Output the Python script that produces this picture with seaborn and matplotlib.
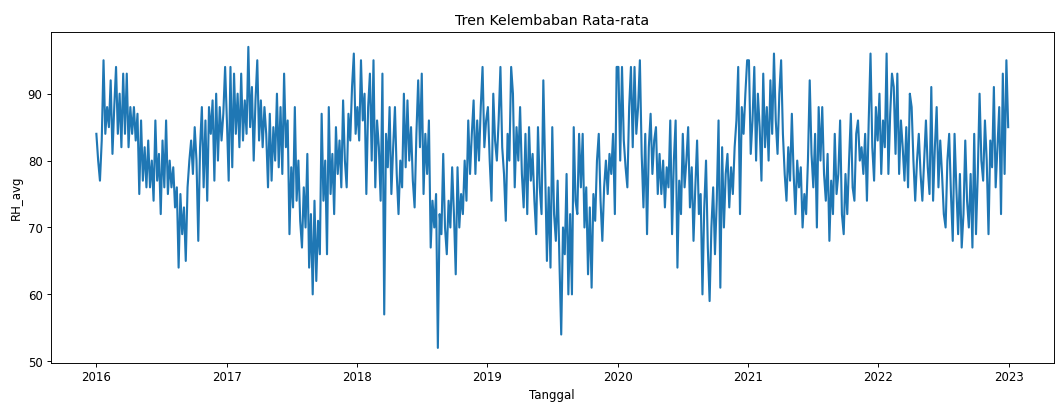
import numpy as np
import pandas as pd
import matplotlib
matplotlib.use("Agg")
import matplotlib.pyplot as plt
import seaborn as sns

# Values (approx. every 5 days, alternating local highs/lows)
rh_2016 = [84, 80, 77, 83, 95, 84, 88, 85, 92, 81, 88, 94, 84, 90, 82, 93, 84, 93, 82, 88,
           84, 88, 83, 87, 75, 86, 77, 82, 76, 83, 76, 80, 74, 86, 77, 81, 72, 83, 76, 86,
           75, 80, 76, 79, 73, 76, 64, 75, 69, 73, 65, 76, 80, 83, 78, 85, 80, 68, 82, 88,
           76, 86, 74, 88, 84, 89, 77, 90, 80, 88, 83, 87, 94]
rh_2017 = [86, 77, 94, 79, 93, 84, 90, 82, 93, 83, 89, 84, 97, 85, 91, 80, 89, 95, 83, 89,
           82, 88, 84, 76, 87, 77, 85, 80, 90, 79, 88, 78, 93, 82, 86, 69, 79, 73, 88, 74,
           80, 71, 67, 76, 70, 81, 64, 72, 60, 74, 62, 71, 66, 87, 74, 80, 66, 88, 75, 81,
           72, 85, 78, 83, 76, 89, 80, 76, 87, 83, 91, 96, 84]
rh_2018 = [88, 83, 95, 86, 90, 75, 88, 93, 80, 95, 76, 86, 82, 74, 93, 57, 84, 79, 88, 75,
           82, 88, 78, 72, 80, 76, 90, 79, 89, 80, 85, 77, 73, 84, 92, 82, 93, 75, 84, 78,
           86, 67, 74, 70, 75, 52, 72, 69, 81, 70, 66, 74, 70, 79, 72, 63, 79, 70, 75, 72,
           80, 74, 86, 78, 84, 89, 78, 86, 80, 88, 94, 82, 86]
rh_2019 = [88, 80, 74, 90, 83, 80, 86, 94, 82, 78, 71, 84, 80, 94, 90, 76, 85, 80, 88, 78,
           73, 84, 72, 85, 77, 81, 74, 69, 85, 76, 72, 92, 79, 65, 76, 64, 85, 72, 68, 77,
           65, 54, 70, 66, 78, 60, 72, 60, 85, 74, 72, 84, 76, 84, 70, 76, 63, 73, 61, 75,
           71, 80, 84, 74, 68, 76, 80, 75, 81, 78, 84, 72, 94]
rh_2020 = [94, 80, 94, 83, 79, 76, 88, 94, 82, 94, 84, 88, 95, 81, 73, 84, 69, 82, 87, 78,
           83, 85, 75, 81, 75, 80, 73, 79, 76, 86, 69, 80, 86, 64, 77, 72, 84, 76, 80, 85,
           73, 79, 68, 76, 83, 72, 75, 60, 73, 80, 67, 59, 70, 76, 66, 74, 86, 61, 82, 70,
           78, 81, 73, 79, 75, 82, 86, 94, 72, 88, 84, 90, 95]
rh_2021 = [95, 81, 86, 94, 80, 90, 85, 77, 93, 82, 88, 80, 92, 84, 96, 86, 81, 90, 95, 84,
           78, 74, 82, 77, 87, 78, 72, 80, 76, 79, 70, 75, 72, 80, 92, 81, 76, 84, 70, 88,
           80, 88, 78, 74, 81, 68, 77, 72, 84, 75, 78, 86, 72, 69, 78, 72, 80, 87, 76, 74,
           84, 86, 80, 82, 78, 84, 74, 86, 96, 82, 77, 88, 83]
rh_2022 = [90, 78, 86, 82, 96, 78, 87, 93, 91, 81, 93, 78, 86, 82, 77, 85, 76, 90, 88, 80,
           74, 80, 84, 78, 74, 80, 86, 79, 75, 91, 74, 82, 88, 76, 83, 78, 72, 70, 80, 84,
           75, 68, 84, 76, 69, 78, 67, 72, 83, 74, 70, 78, 67, 84, 69, 78, 90, 80, 77, 86,
           80, 69, 83, 79, 91, 76, 82, 88, 72, 93, 78, 95, 85]

rh_avg = rh_2016 + rh_2017 + rh_2018 + rh_2019 + rh_2020 + rh_2021 + rh_2022
start_date = "2016-01-01"
end_date = "2022-12-31"
tanggal = pd.date_range(start_date, end_date, periods=len(rh_avg))

df = pd.DataFrame({"Tanggal": tanggal, "RH_avg": rh_avg})

plt.rcParams["font.size"] = 10
plt.rcParams["axes.titlesize"] = 12
fig = plt.figure(figsize=(12.5, 4.8), dpi=84.64)
ax = fig.add_axes([0.048, 0.106, 0.948, 0.815])
sns.lineplot(data=df, x="Tanggal", y="RH_avg", ax=ax, color="#1f77b4", linewidth=1.8)
ax.set_title("Tren Kelembaban Rata-rata")
ax.set_xlabel("Tanggal")
ax.set_ylabel("RH_avg")
fig.savefig("out.png", dpi=84.64)
